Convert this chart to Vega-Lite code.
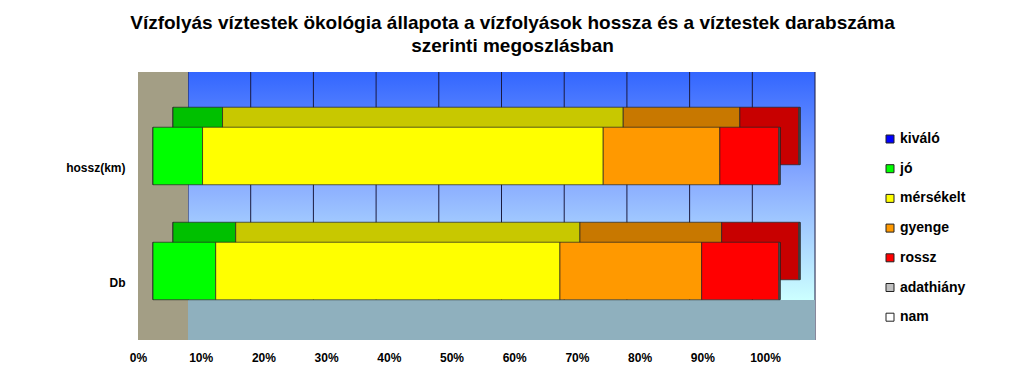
{
  "$schema": "https://vega.github.io/schema/vega-lite/v6.json",
  "width": 677,
  "height": 268,
  "autosize": {"type": "none"},
  "padding": {"left": 138, "top": 72, "right": 209, "bottom": 48},
  "background": "white",
  "config": {
    "view": {"stroke": null},
    "font": "Liberation Sans",
    "axis": {"labelFont": "Liberation Sans", "labelFontWeight": "bold", "labelFontSize": 12, "labelColor": "#000000"},
    "legend": {"labelFont": "Liberation Sans", "labelFontWeight": "bold", "labelFontSize": 14, "labelColor": "#000000"}
  },
  "title": {
    "text": ["Vízfolyás víztestek ökológia állapota a vízfolyások hossza és a víztestek darabszáma", "szerinti megoszlásban"],
    "font": "Liberation Sans",
    "fontSize": 19,
    "fontWeight": "bold",
    "color": "#000000",
    "anchor": "middle",
    "dx": 36,
    "offset": 16,
    "lineHeight": 23
  },
  "datasets": {
    "main": [
      {"cat": "hossz(km)", "series": "kiváló", "o": 1, "value": 0},
      {"cat": "hossz(km)", "series": "jó", "o": 2, "value": 7.9},
      {"cat": "hossz(km)", "series": "mérsékelt", "o": 3, "value": 63.9},
      {"cat": "hossz(km)", "series": "gyenge", "o": 4, "value": 18.6},
      {"cat": "hossz(km)", "series": "rossz", "o": 5, "value": 9.4},
      {"cat": "hossz(km)", "series": "adathiány", "o": 6, "value": 0.2},
      {"cat": "hossz(km)", "series": "nam", "o": 7, "value": 0},
      {"cat": "Db", "series": "kiváló", "o": 1, "value": 0},
      {"cat": "Db", "series": "jó", "o": 2, "value": 10.0},
      {"cat": "Db", "series": "mérsékelt", "o": 3, "value": 54.9},
      {"cat": "Db", "series": "gyenge", "o": 4, "value": 22.6},
      {"cat": "Db", "series": "rossz", "o": 5, "value": 12.3},
      {"cat": "Db", "series": "adathiány", "o": 6, "value": 0.2},
      {"cat": "Db", "series": "nam", "o": 7, "value": 0}
    ],
    "ticks": [{"v": 0}, {"v": 0.1}, {"v": 0.2}, {"v": 0.3}, {"v": 0.4}, {"v": 0.5}, {"v": 0.6}, {"v": 0.7}, {"v": 0.8}, {"v": 0.9}, {"v": 1}],
    "one": [{"k": 1}]
  },
  "layer": [
    {
      "data": {"name": "one"},
      "mark": {"type": "rect", "color": {"gradient": "linear", "x1": 0, "y1": 0, "x2": 0, "y2": 1, "stops": [
        {"offset": 0, "color": "#3366FF"},
        {"offset": 0.4, "color": "#88AAFF"},
        {"offset": 0.85, "color": "#CCFFFF"},
        {"offset": 1, "color": "#CCFFFF"}
      ]}},
      "encoding": {}
    },
    {
      "data": {"name": "ticks"},
      "mark": {"type": "rule", "color": "#1A1A40", "strokeWidth": 1, "xOffset": 50},
      "encoding": {
        "x": {"field": "v", "type": "quantitative", "scale": {"domain": [0, 1.0797], "nice": false, "zero": true},
          "axis": {"values": [0, 0.1, 0.2, 0.3, 0.4, 0.5, 0.6, 0.7, 0.8, 0.9, 1], "format": ".0%", "title": null, "grid": false, "domain": false, "ticks": false, "labelPadding": 12, "labelOffset": 0, "labelFlush": false}}
      }
    },
    {
      "data": {"name": "one"},
      "mark": {"type": "rect", "color": {"gradient": "linear", "x1": 0, "y1": 0, "x2": 0, "y2": 1, "stops": [
        {"offset": 0, "color": "rgba(143,176,190,0)"},
        {"offset": 0.851, "color": "rgba(143,176,190,0)"},
        {"offset": 0.851, "color": "#8FB0BE"},
        {"offset": 1, "color": "#8FB0BE"}
      ]}},
      "encoding": {}
    },
    {
      "data": {"name": "one"},
      "mark": {"type": "rect", "color": {"gradient": "linear", "x1": 0, "y1": 0, "x2": 1, "y2": 0, "stops": [
        {"offset": 0, "color": "#A39E85"},
        {"offset": 0.0739, "color": "#A39E85"},
        {"offset": 0.0739, "color": "rgba(163,158,133,0)"},
        {"offset": 1, "color": "rgba(163,158,133,0)"}
      ]}},
      "encoding": {}
    },
    {
      "data": {"name": "main"},
      "mark": {"type": "bar", "xOffset": 35, "yOffset": -20, "stroke": "#222222", "strokeWidth": 0.7},
      "encoding": {
        "y": {"field": "cat", "type": "nominal", "sort": ["hossz(km)", "Db"], "scale": {"paddingInner": 0.5, "paddingOuter": 0.415, "align": 0.5785},
          "axis": {"title": null, "ticks": false, "domain": false, "labelPadding": 13, "labelOffset": 12}},
        "x": {"field": "value", "type": "quantitative", "stack": "normalize", "scale": {"domain": [0, 1.0797], "nice": false, "zero": true},
          "axis": {"values": [0, 0.1, 0.2, 0.3, 0.4, 0.5, 0.6, 0.7, 0.8, 0.9, 1], "format": ".0%", "title": null, "grid": false, "domain": false, "ticks": false, "labelPadding": 12, "labelOffset": 0, "labelFlush": false}},
        "order": {"field": "o", "type": "quantitative"},
        "color": {"field": "series", "type": "nominal", "legend": null,
          "scale": {"domain": ["kiváló", "jó", "mérsékelt", "gyenge", "rossz", "adathiány", "nam"],
            "range": ["#0000AA", "#00C000", "#C8C800", "#C87800", "#C80000", "#A0A0A0", "#CCCCCC"]}}
      }
    },
    {
      "data": {"name": "main"},
      "mark": {"type": "bar", "xOffset": 15, "stroke": "#222222", "strokeWidth": 0.7},
      "encoding": {
        "y": {"field": "cat", "type": "nominal", "sort": ["hossz(km)", "Db"], "scale": {"paddingInner": 0.5, "paddingOuter": 0.415, "align": 0.5785},
          "axis": {"title": null, "ticks": false, "domain": false, "labelPadding": 13, "labelOffset": 12}},
        "x": {"field": "value", "type": "quantitative", "stack": "normalize", "scale": {"domain": [0, 1.0797], "nice": false, "zero": true},
          "axis": {"values": [0, 0.1, 0.2, 0.3, 0.4, 0.5, 0.6, 0.7, 0.8, 0.9, 1], "format": ".0%", "title": null, "grid": false, "domain": false, "ticks": false, "labelPadding": 12, "labelOffset": 0, "labelFlush": false}},
        "order": {"field": "o", "type": "quantitative"},
        "color": {"field": "series", "type": "nominal",
          "scale": {"domain": ["kiváló", "jó", "mérsékelt", "gyenge", "rossz", "adathiány", "nam"],
            "range": ["#0000FF", "#00FF00", "#FFFF00", "#FF9900", "#FF0000", "#C0C0C0", "#FFFFFF"]},
          "legend": {"title": null, "orient": "none", "legendX": 745, "legendY": 60, "symbolType": "square", "symbolSize": 64, "symbolStrokeColor": "#222222", "symbolStrokeWidth": 1, "symbolOpacity": 1, "rowPadding": 15.7, "labelOffset": 3, "padding": 0}}
      }
    }
  ],
  "resolve": {"scale": {"color": "independent"}}
}
